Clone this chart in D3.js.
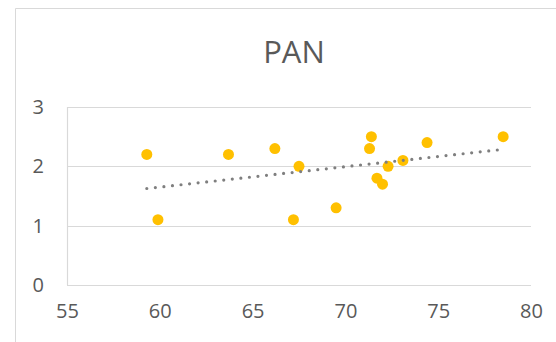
<!DOCTYPE html>
<html>
<head>
<meta charset="utf-8">
<script src="https://cdn.jsdelivr.net/npm/d3@7"></script>
<style>
  html, body { margin: 0; padding: 0; background: #fff; }
  svg { display: block; font-family: "Open Sans", "Liberation Sans", sans-serif; }
</style>
</head>
<body>
<svg width="556" height="342"></svg>
<script>
// values
const lifeExp = [59.3, 59.9, 63.7, 66.2, 67.2, 67.5, 69.5, 71.3, 71.4, 71.7, 72.0, 72.3, 73.1, 74.4, 78.5];
const panVals = [2.2, 1.1, 2.2, 2.3, 1.1, 2.0, 1.3, 2.3, 2.5, 1.8, 1.7, 2.0, 2.1, 2.4, 2.5];
const xTicks = [55, 60, 65, 70, 75, 80];
const yTicks = [0, 1, 2, 3];
const title = "PAN";

const svg = d3.select("svg");

const plotLeft = 67, plotRight = 531, plotTop = 107, plotBottom = 285;

let x = d3.scaleLinear().domain([55, 80]).range([plotLeft, plotRight]);
let y = d3.scaleLinear().domain([0, 3]).range([plotBottom, plotTop]);

// chart area frame (only the left and top edges are in view)
svg.append("path")
    .attr("d", `M15.5,342 V8.5 H556`)
    .attr("fill", "none")
    .attr("stroke", "#d9d9d9")
    .attr("stroke-width", 1);

svg.append("text")
    .attr("x", 294)
    .attr("y", 63)
    .attr("text-anchor", "middle")
    .attr("fill", "#595959")
    .attr("font-size", 31)
    .text(title);

// gridlines
svg.append("g")
  .selectAll("line")
  .data(yTicks)
  .join("line")
    .attr("x1", plotLeft)
    .attr("x2", plotRight)
    .attr("y1", d => Math.round(y(d)) + 0.5)
    .attr("y2", d => Math.round(y(d)) + 0.5)
    .attr("stroke", "#d9d9d9")
    .attr("stroke-width", 1.2);

// vertical axis line
svg.append("line")
    .attr("x1", plotLeft + 0.5).attr("x2", plotLeft + 0.5)
    .attr("y1", y(3)).attr("y2", y(0))
    .attr("stroke", "#d9d9d9")
    .attr("stroke-width", 1.2);

// y labels
const yAxis = d3.axisLeft(y).tickValues(yTicks).tickFormat(d3.format("d")).tickSize(0).tickPadding(23);
svg.append("g")
    .attr("transform", `translate(${plotLeft},0)`)
    .call(yAxis)
    .call(g => g.select(".domain").remove())
    .call(g => g.selectAll("text")
        .attr("fill", "#595959")
        .attr("font-size", 20)
        .attr("font-family", "Open Sans, sans-serif"));

// x labels
const xAxis = d3.axisBottom(x).tickValues(xTicks).tickFormat(d3.format("d")).tickSize(0).tickPadding(19);
svg.append("g")
    .attr("transform", `translate(0,${plotBottom})`)
    .call(xAxis)
    .call(g => g.select(".domain").remove())
    .call(g => g.selectAll("text")
        .attr("fill", "#595959")
        .attr("font-size", 20)
        .attr("font-family", "Open Sans, sans-serif"));

// points
const pts = lifeExp.map((v, i) => [v, panVals[i]]);
svg.append("g")
  .selectAll("circle")
  .data(pts)
  .join("circle")
    .attr("cx", d => x(d[0]))
    .attr("cy", d => y(d[1]))
    .attr("r", 5.5)
    .attr("fill", "#ffc000");

// linear trendline (least squares)
const mx = d3.mean(lifeExp), my = d3.mean(panVals);
const slope = d3.sum(pts, d => (d[0] - mx) * (d[1] - my)) / d3.sum(pts, d => (d[0] - mx) ** 2);
const ext = d3.extent(lifeExp);
const trend = ext.map(v => [v, my + slope * (v - mx)]);

let line = d3.line()
    .x(d => x(d[0]))
    .y(d => y(d[1]));

svg.append("path")
    .datum(trend)
    .attr("d", line)
    .attr("fill", "none")
    .attr("stroke", "#7f7f7f")
    .attr("stroke-width", 3.2)
    .attr("stroke-linecap", "round")
    .attr("stroke-dasharray", "0 8.6");
</script>
</body>
</html>
